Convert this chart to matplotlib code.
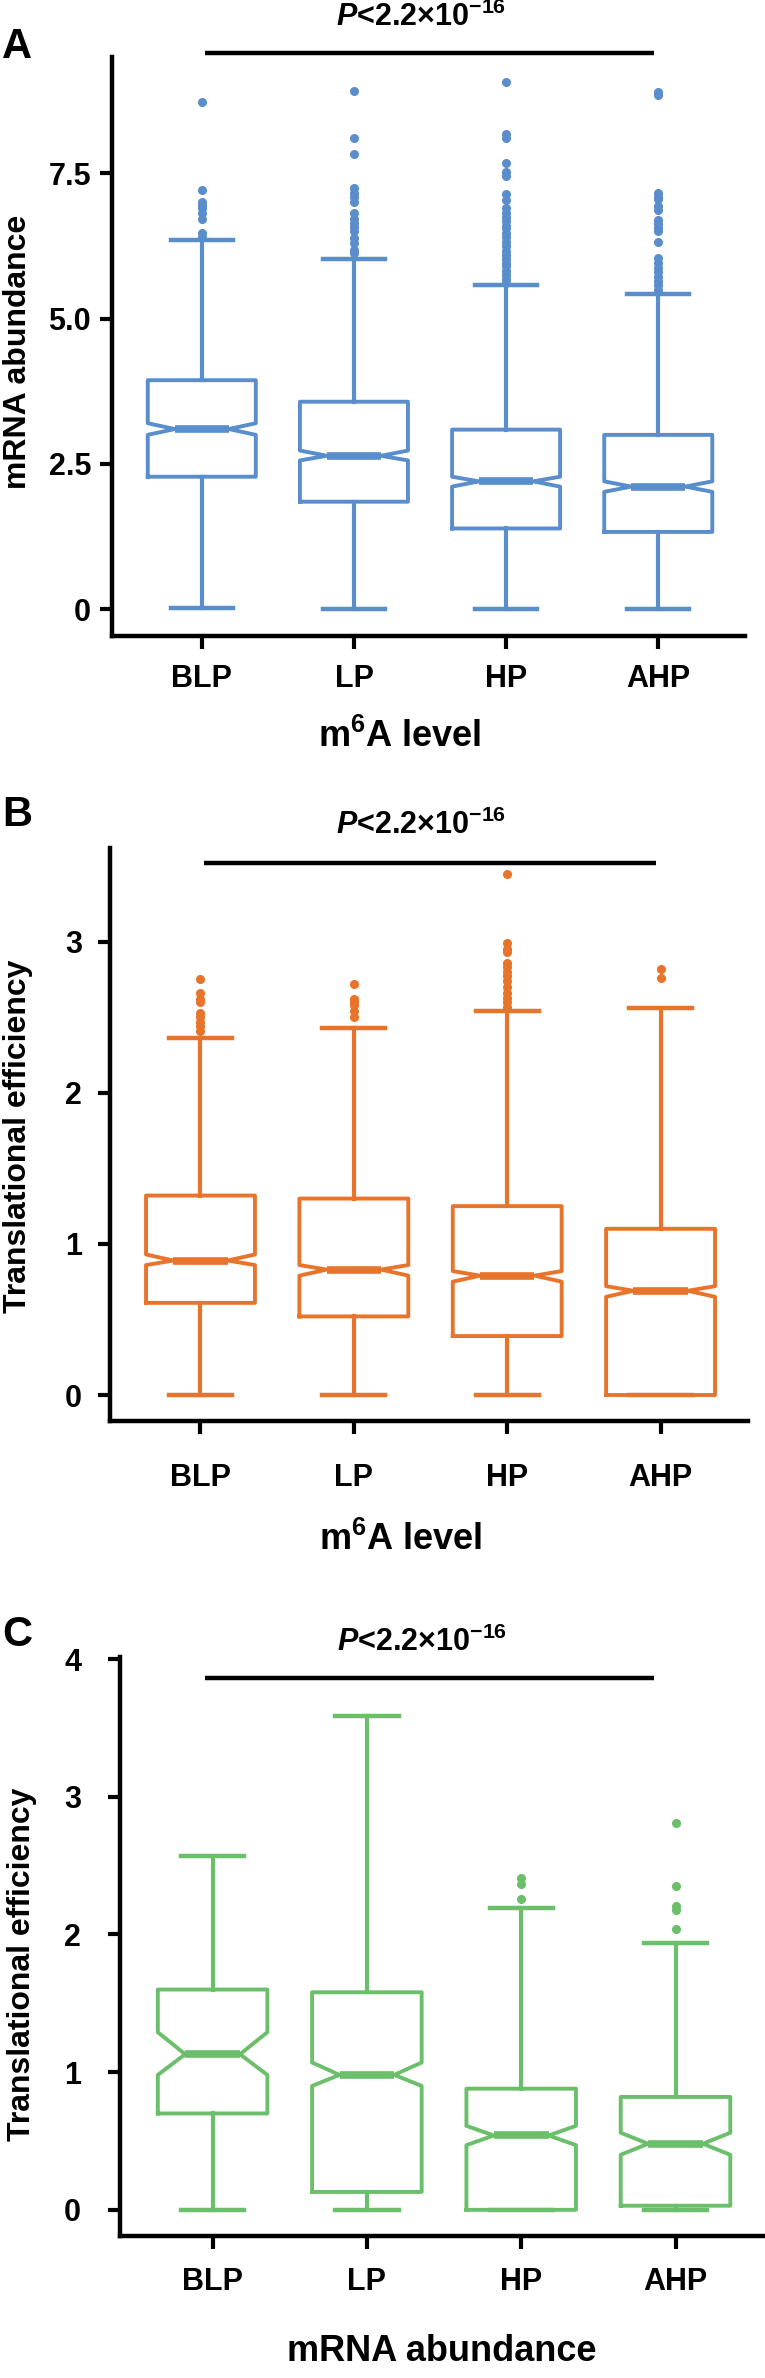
import matplotlib
matplotlib.use('Agg')
import matplotlib.pyplot as plt

plt.rcParams['font.family'] = ['Liberation Sans', 'DejaVu Sans']
plt.rcParams['font.weight'] = 'bold'
plt.rcParams['axes.labelweight'] = 'bold'
plt.rcParams['mathtext.fontset'] = 'custom'
plt.rcParams['mathtext.rm'] = 'Liberation Sans:bold'
plt.rcParams['mathtext.it'] = 'Liberation Sans:italic:bold'
plt.rcParams['mathtext.bf'] = 'Liberation Sans:bold'

groups = ['BLP', 'LP', 'HP', 'AHP']

# A : mRNA abundance par niveau de m6A
a_whislo = [0.03, 0.0, 0.0, 0.0]
a_q1 = [2.28, 1.85, 1.39, 1.33]
a_med = [3.10, 2.64, 2.20, 2.11]
a_q3 = [3.94, 3.57, 3.09, 3.00]
a_whishi = [6.35, 6.03, 5.57, 5.42]
a_cilo = [3.00, 2.56, 2.11, 2.02]
a_cihi = [3.20, 2.73, 2.28, 2.20]
a_fliers = [
    [8.72, 7.22, 7.01, 6.95, 6.90, 6.81, 6.72, 6.47, 6.41],
    [8.92, 8.11, 7.83, 7.24, 7.16, 7.10, 7.00, 6.81, 6.72, 6.65, 6.58, 6.50,
     6.38, 6.30, 6.18, 6.12],
    [9.07, 8.17, 8.10, 7.68, 7.53, 7.45, 7.15, 7.04, 6.90, 6.82, 6.75, 6.68,
     6.60, 6.55, 6.47, 6.40, 6.32, 6.25, 6.17, 6.10, 6.02, 5.95, 5.90, 5.82,
     5.75, 5.68, 5.62],
    [8.89, 8.85, 7.16, 7.10, 7.06, 6.93, 6.87, 6.70, 6.62, 6.55, 6.50, 6.32,
     6.05, 5.95, 5.87, 5.80, 5.72, 5.65, 5.58, 5.50],
]

# B : efficacite de traduction par niveau de m6A
b_whislo = [0.0, 0.0, 0.0, 0.0]
b_q1 = [0.61, 0.52, 0.39, 0.0]
b_med = [0.89, 0.83, 0.79, 0.69]
b_q3 = [1.32, 1.30, 1.25, 1.10]
b_whishi = [2.36, 2.43, 2.54, 2.56]
b_cilo = [0.86, 0.79, 0.75, 0.65]
b_cihi = [0.93, 0.86, 0.82, 0.72]
b_fliers = [
    [2.75, 2.66, 2.62, 2.60, 2.53, 2.50, 2.47, 2.44, 2.41],
    [2.72, 2.62, 2.60, 2.58, 2.54, 2.50],
    [3.45, 2.99, 2.95, 2.93, 2.86, 2.83, 2.80, 2.77, 2.74, 2.70, 2.66, 2.63,
     2.60, 2.57],
    [2.82, 2.76],
]

# C : efficacite de traduction par abondance de mRNA
c_whislo = [0.0, 0.0, 0.0, 0.0]
c_q1 = [0.70, 0.13, 0.0, 0.03]
c_med = [1.13, 0.98, 0.54, 0.48]
c_q3 = [1.60, 1.58, 0.88, 0.82]
c_whishi = [2.57, 3.59, 2.19, 1.94]
c_cilo = [0.98, 0.90, 0.47, 0.40]
c_cihi = [1.29, 1.07, 0.61, 0.56]
c_fliers = [
    [],
    [],
    [2.41, 2.37, 2.26],
    [2.81, 2.35, 2.21, 2.18, 2.04],
]


def make_stats(whislo, q1, med, q3, whishi, cilo, cihi, fliers):
    stats = []
    for i in range(len(groups)):
        stats.append({'label': groups[i], 'whislo': whislo[i], 'q1': q1[i],
                      'med': med[i], 'q3': q3[i], 'whishi': whishi[i],
                      'cilo': cilo[i], 'cihi': cihi[i], 'fliers': fliers[i]})
    return stats


W, H = 765, 2378
fig = plt.figure(figsize=(W / 100, H / 100), dpi=100)


def add_axes(left, right, top, bottom):
    return fig.add_axes([left / W, 1 - bottom / H, (right - left) / W, (bottom - top) / H])


def draw_panel(ax, stats, color, ylim, xlim, yticks, yticklabels, xpad, ypad):
    ax.bxp(stats, positions=[1, 2, 3, 4], widths=0.71, capwidths=0.41,
           shownotches=True, showfliers=True,
           boxprops=dict(color=color, linewidth=2.8),
           whiskerprops=dict(color=color, linewidth=3.0),
           capprops=dict(color=color, linewidth=3.2),
           medianprops=dict(color=color, linewidth=5.5, solid_capstyle='butt'),
           flierprops=dict(marker='o', markerfacecolor=color, markeredgecolor=color,
                           markersize=5.5, linestyle='none'))
    ax.set_ylim(*ylim)
    ax.set_xlim(*xlim)
    ax.set_yticks(yticks)
    ax.set_yticklabels(yticklabels)
    for s in ['top', 'right']:
        ax.spines[s].set_visible(False)
    for s in ['left', 'bottom']:
        ax.spines[s].set_linewidth(3.2)
    ax.tick_params(axis='both', length=9, width=3, labelsize=22)
    ax.tick_params(axis='x', pad=xpad)
    ax.tick_params(axis='y', pad=ypad)
    plt.setp(ax.get_xticklabels() + ax.get_yticklabels(), fontweight='bold')


def pval(ax, x0, x1, yline, xt, yt):
    ax.plot([x0, x1], [yline, yline], color='black', lw=3.2, clip_on=False,
            solid_capstyle='butt')
    ax.text(xt, yt, r'$\mathit{P}$<2.2×10$^{-16}$', ha='center', va='center',
            fontsize=22, fontweight='bold', clip_on=False)


blue = '#5A8DCB'
orange = '#E8742B'
green = '#6BBF6A'

# panel A
axA = add_axes(112, 745, 57, 636)
draw_panel(axA, make_stats(a_whislo, a_q1, a_med, a_q3, a_whishi, a_cilo, a_cihi, a_fliers),
           blue, (-0.46, 9.5), (0.41, 4.57), [0, 2.5, 5.0, 7.5], ['0', '2.5', '5.0', '7.5'], 11, 6)
pval(axA, 1.02, 3.97, 9.57, 2.44, 10.19)
axA.set_ylabel('mRNA abundance', fontsize=23, fontweight='bold', va='center')
axA.yaxis.set_label_coords(-0.148, 0.49)
axA.set_xlabel(r'm$^{6}$A level', fontsize=26, fontweight='bold', va='center')
axA.xaxis.set_label_coords(0.455, -0.174)

# panel B
axB = add_axes(110, 748, 848, 1421)
draw_panel(axB, make_stats(b_whislo, b_q1, b_med, b_q3, b_whishi, b_cilo, b_cihi, b_fliers),
           orange, (-0.172, 3.62), (0.41, 4.57), [0, 1, 2, 3], ['0', '1', '2', '3'], 21, 11)
pval(axB, 1.02, 3.97, 3.52, 2.44, 3.77)
axB.set_ylabel('Translational efficiency', fontsize=23, fontweight='bold', va='center')
axB.yaxis.set_label_coords(-0.144, 0.497)
axB.set_xlabel(r'm$^{6}$A level', fontsize=26, fontweight='bold', va='center')
axB.xaxis.set_label_coords(0.455, -0.208)

# panel C
axC = add_axes(120, 765, 1657, 2236)
draw_panel(axC, make_stats(c_whislo, c_q1, c_med, c_q3, c_whishi, c_cilo, c_cihi, c_fliers),
           green, (-0.19, 4.015), (0.40, 4.58), [0, 1, 2, 3, 4], ['0', '1', '2', '3', '4'], 13, 19)
pval(axC, 0.95, 3.86, 3.86, 2.36, 4.12)
axC.set_ylabel('Translational efficiency', fontsize=23, fontweight='bold', va='center')
axC.yaxis.set_label_coords(-0.152, 0.47)
axC.set_xlabel('mRNA abundance', fontsize=26, fontweight='bold', va='center')
axC.xaxis.set_label_coords(0.499, -0.2)

fig.text(2 / W, 1 - 27 / H, 'A', fontsize=30, fontweight='bold', va='top', ha='left')
fig.text(2 / W, 1 - 795 / H, 'B', fontsize=30, fontweight='bold', va='top', ha='left')
fig.text(2 / W, 1 - 1615 / H, 'C', fontsize=30, fontweight='bold', va='top', ha='left')

fig.savefig('out.png', dpi=100)
